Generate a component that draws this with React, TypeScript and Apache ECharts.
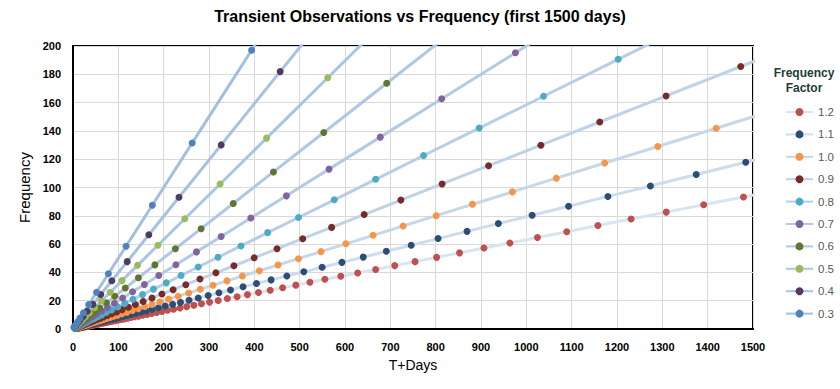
import React, { useEffect, useRef } from "react";
import * as echarts from "echarts";

const FONT = "Liberation Sans, Arial, sans-serif";

const factors = ["1.2", "1.1", "1.0", "0.9", "0.8", "0.7", "0.6", "0.5", "0.4", "0.3"];

const markerColors = ["#c0504d", "#2c4d75", "#f79646", "#772c2a", "#4bacc6", "#8064a2", "#5f7530", "#9bbb59", "#4d3b62", "#4f81bd"];
const lineColors = ["#d9e4f2", "#cddcee", "#c5d7eb", "#bed2e8", "#b8cde6", "#b3cae4", "#afc7e3", "#abc4e1", "#a7c1e0", "#a3bfdf"];

const xTicks = { min: 0, max: 1500, step: 100 };
const yTicks = { min: 0, max: 200, step: 20 };

const f03 = [[2,1.0],[3,1.5],[4.6,2.3],[6.8,3.4],[10.3,5.1],[15.4,7.7],[23.1,11.5],[34.6,17.3],[52,26],[78,39],[117,58.5],[175,87.5],[263,131.5],[394,197],[591,295.5]];
const f04 = [[3,1.2],[4.2,1.7],[5.9,2.3],[8.2,3.3],[11.5,4.6],[16,6.4],[22.4,8.9],[31.3,12.5],[43.8,17.4],[61.2,24.4],[85.6,34.1],[119.6,47.6],[167.3,66.6],[233.8,93.1],[326.9,130.1],[457,181.9],[639,254.3]];
const f05 = [[3,0.9],[4,1.3],[5.3,1.7],[6.9,2.2],[9.1,2.9],[12,3.8],[15.8,5.0],[20.8,6.6],[27.4,8.7],[36.1,11.4],[47.5,15.0],[62.5,19.8],[82.2,26.0],[108.2,34.2],[142.4,45.0],[187.4,59.2],[246.6,77.9],[324.5,102.5],[427,134.9],[562,177.6],[739.6,233.7]];
const f06 = [[3.2,0.8],[4,1.0],[5,1.3],[6.3,1.6],[7.9,2.0],[9.8,2.5],[12.3,3.1],[15.4,3.9],[19.2,4.8],[24.1,6.0],[30.1,7.6],[37.7,9.5],[47.1,11.8],[58.9,14.8],[73.7,18.5],[92.2,23.1],[115.4,29.0],[144.3,36.2],[180.6,45.3],[225.9,56.7],[282.6,70.9],[353.5,88.7],[442.2,111.0],[553.2,138.9],[692,173.7],[865.7,217.3]];
const f07 = [[3.4,0.7],[4.1,0.8],[4.9,1.0],[5.9,1.2],[7.1,1.4],[8.5,1.7],[10.2,2.0],[12.3,2.5],[14.7,2.9],[17.7,3.5],[21.2,4.2],[25.5,5.1],[30.5,6.1],[36.7,7.3],[44,8.8],[52.8,10.6],[63.3,12.7],[76,15.2],[91.2,18.2],[109.5,21.9],[131.4,26.3],[157.6,31.5],[189.2,37.8],[227,45.4],[272.4,54.5],[326.9,65.4],[392.2,78.4],[470.7,94.1],[564.8,113.0],[677.8,135.6],[813.3,162.7],[976,195.2],[1171,234.2]];
const f08 = [[5.2,0.8],[6,1.0],[7,1.1],[8.1,1.3],[9.4,1.5],[10.8,1.7],[12.6,2.0],[14.6,2.3],[16.9,2.7],[19.5,3.1],[22.6,3.6],[26.2,4.2],[30.4,4.8],[35.2,5.6],[40.8,6.5],[47.3,7.5],[54.7,8.7],[63.4,10.0],[73.5,11.6],[85.1,13.5],[98.6,15.6],[114.2,18.1],[132.3,21.0],[153.3,24.3],[177.6,28.2],[205.8,32.6],[238.4,37.8],[276.2,43.8],[319.9,50.7],[370.6,58.7],[429.4,68.1],[497.4,78.8],[576.3,91.3],[667.6,105.8],[773.4,122.6],[896,142.0],[1038,164.5],[1202.6,190.6],[1393,220.8]];
const f09 = [[5.0,0.6],[5.6,0.7],[6.3,0.8],[7.1,0.9],[8.0,1.0],[9.0,1.1],[10.1,1.3],[11.4,1.4],[12.8,1.6],[14.5,1.8],[16.3,2.1],[18.3,2.3],[20.6,2.6],[23.2,2.9],[26.1,3.3],[29.4,3.7],[33.1,4.2],[37.3,4.7],[42.0,5.3],[47.3,6.0],[53.2,6.7],[59.9,7.5],[67.5,8.5],[76.0,9.6],[85.6,10.8],[96.3,12.1],[108.5,13.7],[122.1,15.4],[137.5,17.3],[154.8,19.5],[174.3,21.9],[196.2,24.7],[220.9,27.8],[248.8,31.3],[280.1,35.3],[315.3,39.7],[355.0,44.7],[399.7,50.3],[450.1,56.7],[506.7,63.8],[570.5,71.8],[642.3,80.9],[723.2,91.1],[814.2,102.5],[916.7,115.4],[1032.1,129.9],[1162.0,146.3],[1308.3,164.7],[1473,185.5],[1658.5,208.8]];
const f10 = [[6.2,0.6],[6.8,0.7],[7.5,0.8],[8.3,0.8],[9.1,0.9],[10,1.0],[11,1.1],[12.1,1.2],[13.3,1.3],[14.6,1.5],[16.1,1.6],[17.7,1.8],[19.5,2.0],[21.4,2.1],[23.5,2.4],[25.9,2.6],[28.5,2.9],[31.3,3.1],[34.5,3.5],[37.9,3.8],[41.7,4.2],[45.9,4.6],[50.5,5.1],[55.5,5.6],[61.1,6.1],[67.2,6.7],[73.9,7.4],[81.3,8.1],[89.5,9.0],[98.4,9.8],[108.2,10.8],[119.1,11.9],[131,13.1],[144.1,14.4],[158.5,15.9],[174.3,17.4],[191.8,19.2],[210.9,21.1],[232,23.2],[255.2,25.5],[280.8,28.1],[308.8,30.9],[339.7,34.0],[373.7,37.4],[411.1,41.1],[452.2,45.2],[497.4,49.7],[547.2,54.7],[601.9,60.2],[662,66.2],[728.2,72.8],[801.1,80.1],[881.2,88.1],[969.3,96.9],[1066.2,106.6],[1172.8,117.3],[1290,129.0],[1419,141.9],[1561,156.1]];
const f11 = [[7.6,0.6],[8.2,0.7],[8.9,0.7],[9.6,0.8],[10.3,0.8],[11.2,0.9],[12,1.0],[13,1.0],[14,1.1],[15.1,1.2],[16.3,1.3],[17.6,1.4],[19,1.5],[20.6,1.6],[22.2,1.8],[24,1.9],[25.9,2.1],[27.9,2.2],[30.1,2.4],[32.5,2.6],[35.1,2.8],[37.9,3.0],[40.9,3.2],[44.1,3.5],[47.7,3.8],[51.4,4.1],[55.5,4.4],[59.9,4.8],[64.7,5.1],[69.8,5.5],[75.4,6.0],[81.4,6.5],[87.8,7.0],[94.8,7.5],[102.3,8.1],[110.4,8.8],[119.2,9.5],[128.7,10.2],[138.9,11.0],[149.9,11.9],[161.8,12.8],[174.7,13.9],[188.6,15.0],[203.5,16.2],[219.7,17.4],[237.1,18.8],[256,20.3],[276.3,21.9],[298.2,23.7],[321.9,25.6],[347.5,27.6],[375.1,29.8],[404.8,32.1],[437,34.7],[471.7,37.5],[509.1,40.4],[549.6,43.6],[593.2,47.1],[640.3,50.8],[691.2,54.9],[746,59.2],[805.3,63.9],[869.2,69.0],[938.3,74.5],[1012.8,80.4],[1093.2,86.8],[1180,93.7],[1273.7,101.1],[1374.8,109.2],[1484,117.8],[1601.8,127.2]];
const f12 = [[9.8,0.6],[10.4,0.7],[11.1,0.7],[11.8,0.7],[12.5,0.8],[13.3,0.8],[14.1,0.9],[15,0.9],[16,1.0],[17,1.1],[18,1.1],[19.2,1.2],[20.4,1.3],[21.7,1.4],[23,1.5],[24.5,1.5],[26,1.6],[27.7,1.7],[29.4,1.9],[31.3,2.0],[33.3,2.1],[35.4,2.2],[37.6,2.4],[40,2.5],[42.5,2.7],[45.2,2.9],[48,3.0],[51.1,3.2],[54.3,3.4],[57.7,3.6],[61.4,3.9],[65.2,4.1],[69.4,4.4],[73.7,4.7],[78.4,4.9],[83.3,5.3],[88.6,5.6],[94.2,5.9],[100.1,6.3],[106.5,6.7],[113.2,7.1],[120.3,7.6],[127.9,8.1],[136,8.6],[144.6,9.1],[153.7,9.7],[163.4,10.3],[173.7,11.0],[184.7,11.7],[196.3,12.4],[208.7,13.2],[221.9,14.0],[235.9,14.9],[250.8,15.8],[266.6,16.8],[283.4,17.9],[301.3,19.0],[320.3,20.2],[340.5,21.5],[362,22.8],[384.9,24.3],[409.2,25.8],[435,27.4],[462.4,29.2],[491.6,31.0],[522.6,33.0],[555.6,35.1],[590.7,37.3],[628,39.6],[667.6,42.1],[709.7,44.8],[754.5,47.6],[802.1,50.6],[852.7,53.8],[906.5,57.2],[963.7,60.8],[1024.5,64.6],[1089.2,68.7],[1157.9,73.1],[1231,77.7],[1308.6,82.6],[1391.2,87.8],[1479,93.3],[1572.3,99.2]];

const seriesData = [f12, f11, f10, f09, f08, f07, f06, f05, f04, f03];

export default function App() {
  const ref = useRef<HTMLDivElement>(null);
  useEffect(() => {
    document.body.style.margin = "0";
    const chart = echarts.init(ref.current!, null, { renderer: "svg" });
    chart.setOption({
      animation: false,
      backgroundColor: "#ffffff",
      textStyle: { fontFamily: FONT },
      title: {
        text: "Transient Observations vs Frequency (first 1500 days)",
        left: "center",
        top: 8,
        padding: 0,
        textStyle: { fontSize: 16, fontWeight: "bold", color: "#000", fontFamily: FONT },
      },
      graphic: [
        { type: "text", x: 804, y: 73, style: { text: "Frequency", fontSize: 12, fontWeight: "bold", fill: "#1f3b3b", align: "center", verticalAlign: "middle", fontFamily: FONT } },
        { type: "text", x: 804, y: 88, style: { text: "Factor", fontSize: 12, fontWeight: "bold", fill: "#1f3b3b", align: "center", verticalAlign: "middle", fontFamily: FONT } },
      ],
      legend: {
        orient: "vertical",
        left: 780,
        top: 101,
        itemWidth: 27,
        itemHeight: 10,
        itemGap: 10.4,
        selectedMode: false,
        data: factors,
        textStyle: { color: "#595959", fontSize: 11.5, fontFamily: FONT },
      },
      grid: { left: 73, right: 87, top: 46, bottom: 60, show: true, borderColor: "#000", borderWidth: 2, containLabel: false },
      xAxis: {
        type: "value",
        min: xTicks.min,
        max: xTicks.max,
        interval: xTicks.step,
        name: "T+Days",
        nameLocation: "middle",
        nameGap: 29,
        nameTextStyle: { fontSize: 14, color: "#000", fontFamily: FONT },
        axisLine: { show: true, onZero: false, lineStyle: { color: "#000", width: 2 } },
        axisTick: { show: false },
        splitLine: { show: true, lineStyle: { color: "#d9d9d9", width: 1 } },
        axisLabel: { color: "#000", fontWeight: "bold", fontSize: 11, margin: 12, fontFamily: FONT, formatter: (v: number) => String(v) },
      },
      yAxis: {
        type: "value",
        min: yTicks.min,
        max: yTicks.max,
        interval: yTicks.step,
        name: "Frequency",
        nameLocation: "middle",
        nameGap: 40,
        nameTextStyle: { fontSize: 15, color: "#000", fontFamily: FONT },
        axisLine: { show: true, onZero: false, lineStyle: { color: "#000", width: 2 } },
        axisTick: { show: false },
        splitLine: { show: true, lineStyle: { color: "#d9d9d9", width: 1 } },
        axisLabel: { color: "#000", fontWeight: "bold", fontSize: 11, margin: 12, fontFamily: FONT, formatter: (v: number) => String(v) },
      },
      series: factors.map((name, i) => ({
        name,
        type: "line",
        data: seriesData[i],
        symbol: "circle",
        symbolSize: 7,
        showSymbol: true,
        showAllSymbol: true,
        clip: true,
        lineStyle: { color: lineColors[i], width: 3 },
        itemStyle: { color: markerColors[i] },
        emphasis: { disabled: true },
      })),
    });
    return () => chart.dispose();
  }, []);
  return <div ref={ref} style={{ width: 840, height: 389 }} />;
}
